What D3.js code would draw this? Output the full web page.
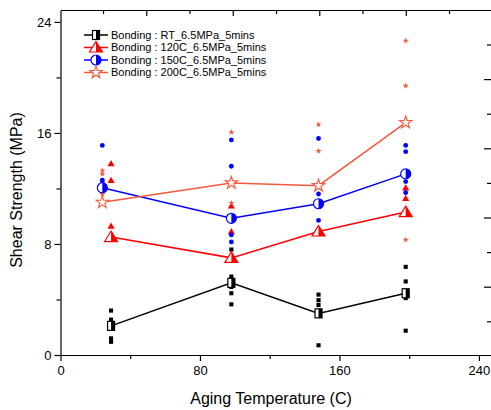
<!DOCTYPE html>
<html><head><meta charset="utf-8">
<script src="https://cdn.jsdelivr.net/npm/d3@7"></script>
<style>body{margin:0;background:#fff} text{font-family:"Liberation Sans",Arial,sans-serif}</style>
</head><body><svg id="c" width="491" height="410"></svg>
<script>
// ---- data ----
const seriesNames = ["Bonding : RT_6.5MPa_5mins","Bonding : 120C_6.5MPa_5mins","Bonding : 150C_6.5MPa_5mins","Bonding : 200C_6.5MPa_5mins"];
const seriesColors = ["#000000","#ff0000","#0000ff","#f5583c"];
const seriesShapes = ["square","triangle","circle","star"];

const tempRT  = [29, 98, 148, 198];
const temp120 = [29, 98, 148, 198];
const temp150 = [24, 98, 148, 198];
const temp200 = [24, 98, 148, 198];

const meanRT  = [2.1, 5.2, 3.0, 4.45];
const mean120 = [8.5, 7.0, 8.9, 10.3];
const mean150 = [12.05, 9.85, 10.9, 13.05];
const mean200 = [11.0, 12.4, 12.2, 16.75];

const rawRT  = [[3.2,2.55,2.3,1.2,0.95],[7.6,5.65,5.4,4.9,4.45,3.65],[4.35,3.95,3.6,2.9,0.7],[6.35,5.3,4.1,1.75]];
const raw120 = [[13.75,12.55,9.25],[10.7,8.85],[],[12.0,11.25]];
const raw150 = [[15.1,12.6,12.4],[15.5,13.6,8.65,8.15],[15.6,11.6,9.7],[15.1,14.65,12.5,11.7]];
const raw200 = [[13.3,13.05,11.6],[16.05,10.95],[16.6,14.7],[22.65,19.4,8.3]];

const xTicks = [0, 80, 160, 240];
const xMinor = [40, 120, 200];
const yTicks = [0, 8, 16, 24];
const yMinor = [4, 12, 20];
const topMajor = [1, 3, 5, 7];
const topMinor = [0, 2, 4, 6, 8];
const rightMajor = [1, 3, 5, 7];
const rightMinor = [0, 2, 4, 6, 8];

const xTitle = "Aging Temperature (C)";
const yTitle = "Shear Strength (MPa)";

// ---- layout ----
const L = 60.5, R = 492, T = 10, B = 355;
const svg = d3.select("#c");
const x = d3.scaleLinear().domain([0, 247.5]).range([L, R]);
const y = d3.scaleLinear().domain([0, 24.86]).range([B, T]);
const xTop = d3.scaleLinear().domain([-0.983, 8.994]).range([L, R]);
const yRight = d3.scaleLinear().domain([-0.974, 8.997]).range([B, T]);

function styleAxis(g, fs){
  g.selectAll("path,line").attr("stroke","#000").attr("stroke-width",1.2);
  g.selectAll("text").attr("font-size",fs).attr("fill","#000").attr("font-family","Liberation Sans, Arial, sans-serif");
}

// bottom
let g = svg.append("g").attr("transform",`translate(0,${B})`)
  .call(d3.axisBottom(x).tickValues(xTicks).tickSize(6).tickSizeOuter(0).tickPadding(5).tickFormat(d3.format("d")));
styleAxis(g, 13);
g = svg.append("g").attr("transform",`translate(0,${B})`)
  .call(d3.axisBottom(x).tickValues(xMinor).tickSize(4).tickSizeOuter(0).tickFormat(""));
g.select(".domain").remove(); styleAxis(g, 13);

// left
g = svg.append("g").attr("transform",`translate(${L},0)`)
  .call(d3.axisLeft(y).tickValues(yTicks).tickSize(6).tickSizeOuter(0).tickPadding(3).tickFormat(d3.format("d")));
styleAxis(g, 13);
g = svg.append("g").attr("transform",`translate(${L},0)`)
  .call(d3.axisLeft(y).tickValues(yMinor).tickSize(4).tickSizeOuter(0).tickFormat(""));
g.select(".domain").remove(); styleAxis(g, 13);

// top (inward ticks)
g = svg.append("g").attr("transform",`translate(0,${T})`)
  .call(d3.axisTop(xTop).tickValues(topMajor).tickSize(-6).tickSizeOuter(0).tickFormat(""));
styleAxis(g, 13);
g = svg.append("g").attr("transform",`translate(0,${T})`)
  .call(d3.axisTop(xTop).tickValues(topMinor).tickSize(-4).tickSizeOuter(0).tickFormat(""));
g.select(".domain").remove(); styleAxis(g, 13);

// right (inward ticks)
g = svg.append("g").attr("transform",`translate(${R},0)`)
  .call(d3.axisRight(yRight).tickValues(rightMajor).tickSize(-8).tickSizeOuter(0).tickFormat(""));
styleAxis(g, 13);
g = svg.append("g").attr("transform",`translate(${R},0)`)
  .call(d3.axisRight(yRight).tickValues(rightMinor).tickSize(-5).tickSizeOuter(0).tickFormat(""));
g.select(".domain").remove(); styleAxis(g, 13);

// titles
svg.append("text").attr("x",271).attr("y",404).attr("text-anchor","middle").attr("font-size",16).text(xTitle);
svg.append("text").attr("transform","translate(22,190) rotate(-90)").attr("text-anchor","middle").attr("font-size",16).text(yTitle);

// ---- marker helpers ----
function bigMarker(sel, shape, color, cx, cy){
  const m = sel.append("g").attr("transform",`translate(${cx},${cy})`);
  if(shape==="square"){
    m.append("rect").attr("x",-3.5).attr("y",-4.5).attr("width",7).attr("height",9).attr("fill","#fff").attr("stroke",color).attr("stroke-width",1.2);
    m.append("rect").attr("x",0).attr("y",-4.5).attr("width",3.5).attr("height",9).attr("fill",color);
  } else if(shape==="triangle"){
    m.append("path").attr("d","M0,-6L6.5,4.5L-6.5,4.5Z").attr("fill","#fff").attr("stroke",color).attr("stroke-width",1.2);
    m.append("path").attr("d","M0,-6L6.5,4.5L0,4.5Z").attr("fill",color);
  } else if(shape==="circle"){
    m.append("circle").attr("r",5).attr("fill","#fff").attr("stroke",color).attr("stroke-width",1.2);
    m.append("path").attr("d","M0,-5A5,5 0 0 1 0,5Z").attr("fill",color);
  } else {
    m.append("path").attr("d",d3.symbol(d3.symbolStar, 48)()).attr("fill","#fff").attr("stroke",color).attr("stroke-width",1.1);
  }
}
const smallSym = {
  square: d3.symbol(d3.symbolSquare, 17),
  triangle: d3.symbol(d3.symbolTriangle, 22),
  circle: d3.symbol(d3.symbolCircle, 18),
  star: d3.symbol(d3.symbolStar, 12)
};

const allTemps = [tempRT, temp120, temp150, temp200];
const allMeans = [meanRT, mean120, mean150, mean200];
const allRaw = [rawRT, raw120, raw150, raw200];

const plot = svg.append("g");
// raw points
allRaw.forEach((groups, si) => {
  groups.forEach((vals, gi) => {
    vals.forEach(v => {
      plot.append("path").attr("d", smallSym[seriesShapes[si]]())
        .attr("transform",`translate(${x(allTemps[si][gi])},${y(v)})`)
        .attr("fill", seriesColors[si]);
    });
  });
});
// lines
const line = d3.line().x(d=>x(d[0])).y(d=>y(d[1]));
allMeans.forEach((ms, si) => {
  plot.append("path").attr("d", line(ms.map((m,i)=>[allTemps[si][i], m])))
    .attr("fill","none").attr("stroke",seriesColors[si]).attr("stroke-width",1.5);
});
// mean markers
allMeans.forEach((ms, si) => {
  ms.forEach((m,i) => bigMarker(plot, seriesShapes[si], seriesColors[si], x(allTemps[si][i]), y(m)));
});

// legend
const leg = svg.append("g");
seriesNames.forEach((name, i) => {
  const ly = 35 + i*12.5;
  leg.append("line").attr("x1",84).attr("x2",108).attr("y1",ly).attr("y2",ly).attr("stroke",seriesColors[i]).attr("stroke-width",1.5);
  bigMarker(leg, seriesShapes[i], seriesColors[i], 96, ly);
  leg.append("text").attr("x",111).attr("y",ly).attr("dy","0.35em").attr("font-size",11).text(name);
});
</script></body></html>
